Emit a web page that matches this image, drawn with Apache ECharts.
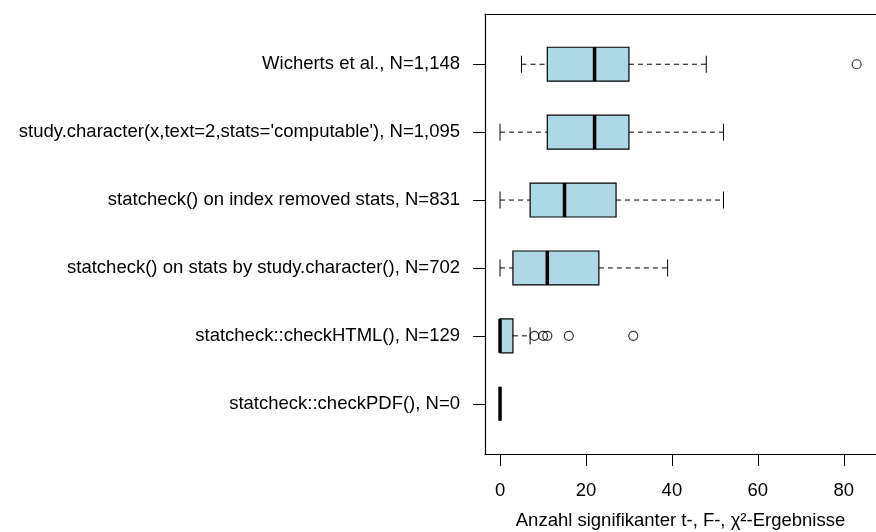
<!DOCTYPE html>
<html>
<head>
<meta charset="utf-8">
<script src="https://cdn.jsdelivr.net/npm/echarts@6/dist/echarts.min.js"></script>
<style>
  html, body { margin: 0; padding: 0; background: #fff; }
  #chart { width: 876px; height: 532px; }
</style>
</head>
<body>
<div id="chart"></div>
<script>
// Gruppen von oben nach unten
const categories = [
  'Wicherts et al., N=1,148',
  "study.character(x,text=2,stats='computable'), N=1,095",
  'statcheck() on index removed stats, N=831',
  'statcheck() on stats by study.character(), N=702',
  'statcheck::checkHTML(), N=129',
  'statcheck::checkPDF(), N=0'
]
const whiskerLow = [5, 0, 0, 0, 0, 0]
const q1 = [11, 11, 7, 3, 0, 0]
const median = [22, 22, 15, 11, 0, 0]
const q3 = [30, 30, 27, 23, 3, 0]
const whiskerHigh = [48, 52, 52, 39, 7, 0]
const outliers = [[83], [], [], [], [8, 10, 11, 16, 31], []]
const xTicks = [0, 20, 40, 60, 80]
const xTitle = 'Anzahl signifikanter t-, F-, χ²-Ergebnisse'

const font = '"Liberation Sans", Arial, Helvetica, sans-serif'
const positions = categories.map((c, i) => i + 1)

const boxData = categories.map((c, i) => [
  i + 1, whiskerLow[i], q1[i], median[i], q3[i], whiskerHigh[i]
])
const outlierData = []
outliers.forEach((arr, i) => {
  arr.forEach(v => outlierData.push([v, i + 1]))
})

function renderBox(params, api) {
  const pos = api.value(0)
  const lo = api.coord([api.value(1), pos])
  const b1 = api.coord([api.value(2), pos])
  const md = api.coord([api.value(3), pos])
  const b3 = api.coord([api.value(4), pos])
  const hi = api.coord([api.value(5), pos])
  const half = (api.size([0, 0.5])[1]) / 2
  const cap = half / 2
  const y = lo[1]
  const dashed = { stroke: '#000', lineWidth: 1, lineDash: [5, 4], fill: null }
  const solid = { stroke: '#000', lineWidth: 1, fill: null }
  return {
    type: 'group',
    children: [
      { type: 'line', shape: { x1: lo[0], y1: y, x2: b1[0], y2: y }, style: dashed },
      { type: 'line', shape: { x1: b3[0], y1: y, x2: hi[0], y2: y }, style: dashed },
      { type: 'line', shape: { x1: lo[0], y1: y - cap, x2: lo[0], y2: y + cap }, style: solid },
      { type: 'line', shape: { x1: hi[0], y1: y - cap, x2: hi[0], y2: y + cap }, style: solid },
      {
        type: 'rect',
        shape: { x: b1[0], y: y - half, width: b3[0] - b1[0], height: half * 2 },
        style: { fill: '#ADD8E6', stroke: '#000', lineWidth: 1.2 }
      },
      {
        type: 'line',
        shape: { x1: md[0], y1: y - half, x2: md[0], y2: y + half },
        style: { stroke: '#000', lineWidth: 3.5 }
      }
    ]
  }
}

const axisLineStyle = { color: '#000', width: 1.2 }

const chart = echarts.init(document.getElementById('chart'), null, { renderer: 'canvas' })
chart.setOption({
  animation: false,
  backgroundColor: '#fff',
  grid: {
    left: 485,
    top: 14,
    bottom: 78,
    right: 0,
    outerBoundsMode: 'none',
    show: false
  },
  xAxis: [
    {
      type: 'value',
      position: 'bottom',
      min: -3.5,
      max: 87.5,
      splitLine: { show: false },
      axisLine: { show: true, onZero: false, lineStyle: axisLineStyle },
      axisTick: {
        show: true,
        length: 12,
        customValues: xTicks,
        lineStyle: { color: '#000' }
      },
      axisLabel: {
        customValues: xTicks,
        margin: 27,
        color: '#000',
        fontSize: 18.5,
        fontFamily: font
      },
      name: xTitle,
      nameLocation: 'middle',
      nameGap: 57,
      nameTextStyle: { color: '#000', fontSize: 18.5, fontFamily: font }
    },
    {
      // obere Rahmenlinie
      type: 'value',
      position: 'top',
      min: -3.5,
      max: 87.5,
      splitLine: { show: false },
      axisLine: { show: true, onZero: false, lineStyle: axisLineStyle },
      axisTick: { show: false },
      axisLabel: { show: false }
    }
  ],
  yAxis: {
    type: 'value',
    inverse: true,
    min: 0.26,
    max: 6.74,
    splitLine: { show: false },
    axisLine: { show: true, onZero: false, lineStyle: axisLineStyle },
    axisTick: {
      show: true,
      length: 12,
      customValues: positions,
      lineStyle: { color: '#000' }
    },
    axisLabel: {
      customValues: positions,
      margin: 25,
      color: '#000',
      fontSize: 18.5,
      fontFamily: font,
      formatter: v => categories[Math.round(v) - 1] || ''
    }
  },
  series: [
    {
      type: 'custom',
      renderItem: renderBox,
      encode: { x: [1, 2, 3, 4, 5], y: 0 },
      data: boxData,
      clip: false
    },
    {
      type: 'scatter',
      symbol: 'circle',
      symbolSize: 9,
      itemStyle: { color: 'rgba(0,0,0,0)', borderColor: '#000', borderWidth: 1.2 },
      data: outlierData
    }
  ]
})
</script>
</body>
</html>
